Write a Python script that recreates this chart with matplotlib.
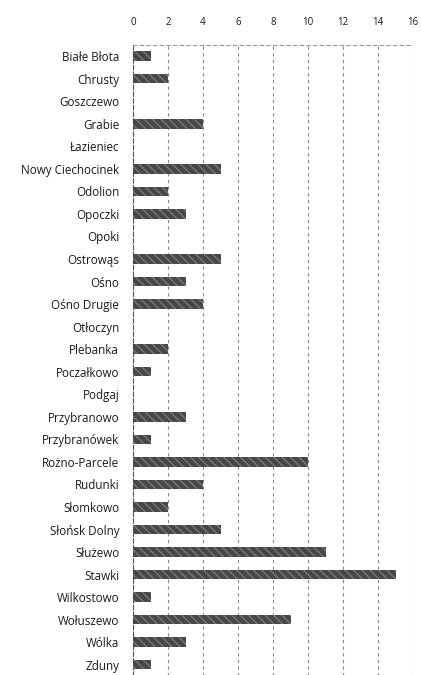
import matplotlib
matplotlib.use("Agg")
import matplotlib.pyplot as plt

villages = ["Białe Błota", "Chrusty", "Goszczewo", "Grabie", "Łazieniec",
            "Nowy Ciechocinek", "Odolion", "Opoczki", "Opoki", "Ostrowąs",
            "Ośno", "Ośno Drugie", "Otłoczyn", "Plebanka", "Poczałkowo",
            "Podgaj", "Przybranowo", "Przybranówek", "Rożno-Parcele", "Rudunki",
            "Słomkowo", "Słońsk Dolny", "Służewo", "Stawki", "Wilkostowo",
            "Wołuszewo", "Wólka", "Zduny"]
values = [1, 2, 0, 4, 0, 5, 2, 3, 0, 5, 3, 4, 0, 2, 1, 0, 3, 1, 10, 4, 2, 5,
          11, 15, 1, 9, 3, 1]
xticks = [0, 2, 4, 6, 8, 10, 12, 14, 16]

plt.rcParams['font.family'] = ['Open Sans', 'DejaVu Sans']
plt.rcParams['hatch.color'] = '#8c8c8c'
plt.rcParams['hatch.linewidth'] = 1.0

fig = plt.figure(figsize=(4.21, 6.75), dpi=100)
# axes spans pixel rows ~45 .. ~676
ax = fig.add_axes([0.316, -0.0015, 0.665, 0.935])

ypos = list(range(len(villages)))
ax.barh(ypos, values, height=0.42, color='#474747', edgecolor='#777777',
        linewidth=0, hatch='\\\\\\\\', zorder=3)

ax.set_xlim(0, 16)
ax.set_ylim(len(villages) - 0.5, -0.5)
ax.set_yticks(ypos)
ax.set_yticklabels(villages, fontsize=8.4, color='#1a1a1a')
ax.set_xticks(xticks)
ax.set_xticklabels([str(t) for t in xticks], fontsize=7, color='#1a1a1a')
ax.xaxis.tick_top()
ax.tick_params(axis='x', length=0, pad=12)
ax.tick_params(axis='y', length=0, pad=10)

ax.grid(axis='x', color='#888888', linestyle=(0, (3, 3)), linewidth=0.8, zorder=0)
for s in ['right', 'bottom']:
    ax.spines[s].set_visible(False)
ax.spines['top'].set_linestyle((0, (3, 3)))
ax.spines['top'].set_color('#999999')
ax.spines['top'].set_linewidth(0.8)
ax.spines['left'].set_linestyle((0, (4, 2)))
ax.spines['left'].set_color('#555555')
ax.spines['left'].set_linewidth(0.8)

fig.savefig("out.png", dpi=100, facecolor='white')
